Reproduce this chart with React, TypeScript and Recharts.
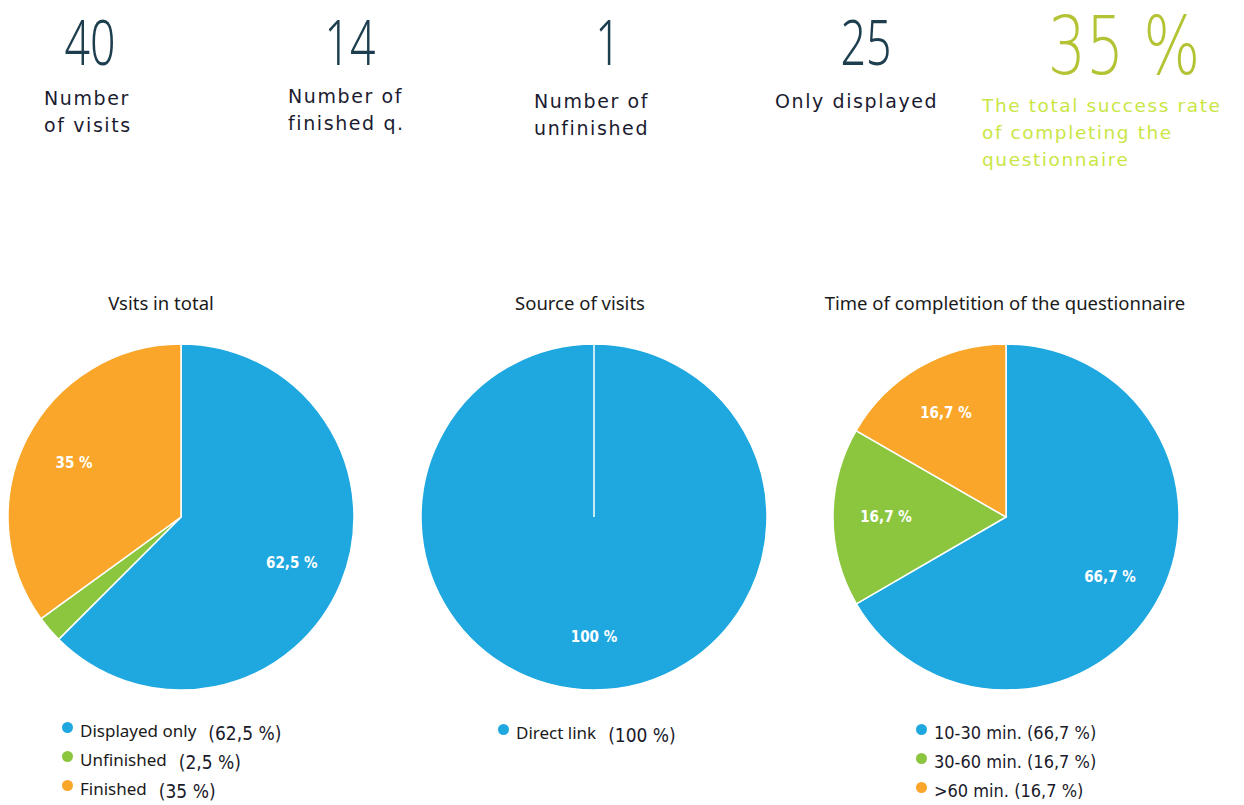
import React from 'react';
import { PieChart, Pie, Cell } from 'recharts';

const BLUE = '#1fa8e0';
const GREEN = '#8cc63f';
const ORANGE = '#faa62a';
const COLORS = [BLUE, GREEN, ORANGE];

const statNumbers = ['40', '14', '1', '25'];
const statLabels = [['Number', 'of visits'], ['Number of', 'finished q.'], ['Number of', 'unfinished'], ['Only displayed']];
const successRate = '35 %';
const successLabel = ['The total success rate', 'of completing the', 'questionnaire'];

const chartTitles = ['Vsits in total', 'Source of visits', 'Time of completition of the questionnaire'];

const visitsNames = ['Displayed only', 'Unfinished', 'Finished'];
const visitsValues = [62.5, 2.5, 35];

const sourceNames = ['Direct link'];
const sourceValues = [100];

const timeNames = ['10-30 min.', '30-60 min.', '>60 min.'];
const timeValues = [66.7, 16.7, 16.7];

const fmt = (v: number) => String(v).replace('.', ',') + ' %';

const toData = (names: string[], values: number[]) => names.map((n, i) => ({ name: n, value: values[i] }));
const visitsData = toData(visitsNames, visitsValues);
const sourceData = toData(sourceNames, sourceValues);
const timeData = toData(timeNames, timeValues);

const NARROW = '"DejaVu Sans Condensed", "Liberation Sans Narrow", "Noto Sans", sans-serif';
const SANS = '"Noto Sans", "Open Sans", sans-serif';
const WIDE = '"DejaVu Sans", Verdana, sans-serif';

const RAD = Math.PI / 180;
const renderLabel = (p: any) => {
  const { cx, cy, midAngle, value } = p;
  if (value < 5) return null;
  const r = 120;
  const x = cx + r * Math.cos(-midAngle * RAD);
  const y = cy + r * Math.sin(-midAngle * RAD);
  return (
    <text x={x} y={y} fill="#ffffff" textAnchor="middle" dominantBaseline="central"
      style={{ fontFamily: NARROW, fontSize: 15, fontWeight: 700 }}>
      {fmt(value)}
    </text>
  );
};

const statX = [44, 288, 534, 775];
const statNumX = [90, 350, 608, 866];
const statLabelTop = [85, 83, 88, 88];

const PIE_TOP = 317;
const PIE_CY = 200;
const pieCx = [181, 594, 1006];

const legendLeft = [62, 498, 916];

function Legend({ names, values, left, top, split }: { names: string[]; values: number[]; left: number; top: number; split: boolean }) {
  return (
    <div style={{ position: 'absolute', left, top }}>
      {names.map((n, i) => (
        <div key={n} style={{ display: 'flex', alignItems: 'center', height: 29, whiteSpace: 'nowrap' }}>
          <span style={{ width: 11, height: 11, borderRadius: '50%', background: COLORS[i], display: 'inline-block', marginRight: 7, marginTop: -6 }} />
          {split ? (
            <>
              <span style={{ fontFamily: SANS, fontSize: 17, color: '#1a1a1a' }}>{n}</span>
              <span style={{ fontFamily: NARROW, fontSize: 19, color: '#1a1a2a', marginLeft: 12, marginTop: 4 }}>({fmt(values[i])})</span>
            </>
          ) : (
            <span style={{ fontFamily: NARROW, fontSize: 18, color: '#1a1a2a' }}>{n} ({fmt(values[i])})</span>
          )}
        </div>
      ))}
    </div>
  );
}

export default function App() {
  return (
    <div style={{ position: 'absolute', left: 0, top: 0, width: 1244, height: 805, background: '#ffffff', overflow: 'hidden' }}>
      {statNumbers.map((n, i) => (
        <div key={'n' + i} style={{ position: 'absolute', left: statNumX[i] - 60, width: 120, top: 10, textAlign: 'center', fontFamily: SANS, fontWeight: 300, fontSize: 62, lineHeight: '62px', color: '#1d3e4e', transform: 'scaleX(0.72)', whiteSpace: 'nowrap' }}>{n}</div>
      ))}
      {statLabels.map((ls, i) => (
        <div key={'l' + i} style={{ position: 'absolute', left: statX[i], top: statLabelTop[i], fontFamily: WIDE, fontSize: 19, letterSpacing: 1.6, lineHeight: '27px', color: '#1b1b30', whiteSpace: 'nowrap' }}>
          {ls.map((l) => <div key={l}>{l}</div>)}
        </div>
      ))}
      <div style={{ position: 'absolute', left: 974, width: 300, top: 7, textAlign: 'center', fontFamily: WIDE, fontWeight: 200, fontSize: 80, lineHeight: '80px', color: '#b3c334', transform: 'scaleX(0.75)', whiteSpace: 'nowrap' }}>{successRate}</div>
      <div style={{ position: 'absolute', left: 982, top: 92, fontFamily: WIDE, fontSize: 18.5, letterSpacing: 1.6, lineHeight: '27px', color: '#c9e645', whiteSpace: 'nowrap' }}>
        {successLabel.map((l) => <div key={l}>{l}</div>)}
      </div>

      {chartTitles.map((t, i) => (
        <div key={t} style={{ position: 'absolute', left: [161, 580, 1005][i] - 250, width: 500, top: 290, textAlign: 'center', fontFamily: SANS, fontSize: 18.5, color: '#1a1a1a' }}>{t}</div>
      ))}

      <div style={{ position: 'absolute', left: 0, top: PIE_TOP }}>
        <PieChart width={1244} height={400} margin={{ top: 0, right: 0, bottom: 0, left: 0 }}>
          <Pie data={visitsData} dataKey="value" nameKey="name" cx={pieCx[0]} cy={PIE_CY} outerRadius={173} startAngle={90} endAngle={-270}
            stroke="#ffffff" strokeWidth={1.5} label={renderLabel} labelLine={false} isAnimationActive={false}>
            {visitsData.map((d, i) => <Cell key={d.name} fill={COLORS[i]} />)}
          </Pie>
          <Pie data={sourceData} dataKey="value" nameKey="name" cx={pieCx[1]} cy={PIE_CY} outerRadius={173} startAngle={90} endAngle={-270}
            stroke="#ffffff" strokeWidth={1.5} label={renderLabel} labelLine={false} isAnimationActive={false}>
            {sourceData.map((d, i) => <Cell key={d.name} fill={COLORS[i]} />)}
          </Pie>
          <Pie data={timeData} dataKey="value" nameKey="name" cx={pieCx[2]} cy={PIE_CY} outerRadius={173} startAngle={90} endAngle={-270}
            stroke="#ffffff" strokeWidth={1.5} label={renderLabel} labelLine={false} isAnimationActive={false}>
            {timeData.map((d, i) => <Cell key={d.name} fill={COLORS[i]} />)}
          </Pie>
        </PieChart>
      </div>

      <Legend names={visitsNames} values={visitsValues} left={legendLeft[0]} top={716} split={true} />
      <Legend names={sourceNames} values={sourceValues} left={legendLeft[1]} top={718} split={true} />
      <Legend names={timeNames} values={timeValues} left={legendLeft[2]} top={718} split={false} />
    </div>
  );
}
